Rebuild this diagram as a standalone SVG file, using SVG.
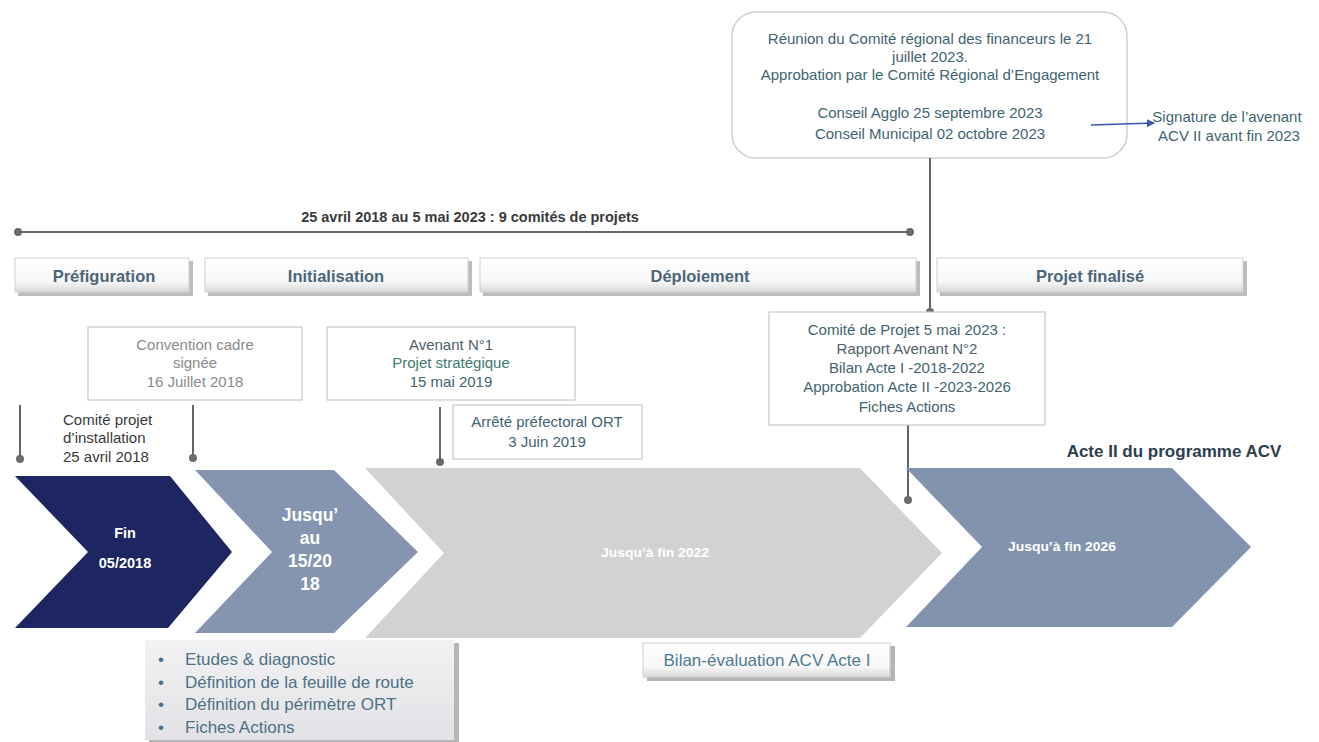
<svg xmlns="http://www.w3.org/2000/svg" width="1319" height="742" viewBox="0 0 1319 742">
<defs>
<style>
text{font-family:"Liberation Sans",Arial,sans-serif;}
.t{font-size:15px;fill:#3f6470;text-anchor:middle;}
.g{font-size:15px;fill:#8a8a8a;text-anchor:middle;}
.ph{font-size:16.5px;font-weight:bold;fill:#4b6678;text-anchor:middle;}
.cv{font-weight:bold;fill:#ffffff;text-anchor:middle;}
.bl{font-size:17px;fill:#4d7185;}
.ln{stroke:#666;stroke-width:2;fill:none;}
.dot{fill:#6b6b6b;}
.box{fill:#fff;stroke:#c8c8c8;stroke-width:1.2;}
</style>
<linearGradient id="bev" x1="0" y1="0" x2="0" y2="1">
<stop offset="0" stop-color="#ffffff"/>
<stop offset="0.7" stop-color="#f7f7f7"/>
<stop offset="1" stop-color="#d9d9d9"/>
</linearGradient>
<linearGradient id="lst" x1="0" y1="0" x2="0" y2="1">
<stop offset="0" stop-color="#f2f2f4"/>
<stop offset="1" stop-color="#e2e2e6"/>
</linearGradient>
<marker id="arr" markerWidth="8" markerHeight="8" refX="7" refY="4" orient="auto" markerUnits="userSpaceOnUse">
<path d="M0,0 L8,4 L0,8 z" fill="#3a56b0"/>
</marker>
</defs>
<rect width="1319" height="742" fill="#ffffff"/>

<g id="top-box">
<rect x="732" y="12" width="395" height="146" rx="24" fill="#fff" stroke="#cfcfcf" stroke-width="1.5"/>
<text class="t" x="930" y="44">Réunion du Comité régional des financeurs le 21</text>
<text class="t" x="930" y="62">juillet 2023.</text>
<text class="t" x="930" y="80">Approbation par le Comité Régional d’Engagement</text>
<text class="t" x="930" y="118">Conseil Agglo 25 septembre 2023</text>
<text class="t" x="930" y="139">Conseil Municipal 02 octobre 2023</text>
</g>

<g id="connectors">
<line class="ln" x1="18" y1="232" x2="910" y2="232"/>
<circle class="dot" cx="18" cy="232" r="4"/>
<circle class="dot" cx="910" cy="232" r="4"/>
<line class="ln" x1="930" y1="158" x2="930" y2="312"/>
<circle class="dot" cx="930" cy="312" r="4"/>
<line class="ln" x1="20" y1="405" x2="20" y2="458"/>
<circle class="dot" cx="20" cy="459" r="4"/>
<line class="ln" x1="193" y1="405" x2="193" y2="457"/>
<circle class="dot" cx="193" cy="458" r="4"/>
<line class="ln" x1="440" y1="407" x2="440" y2="461"/>
<circle class="dot" cx="440" cy="462" r="4"/>
<line class="ln" x1="908" y1="425" x2="908" y2="499"/>
<circle class="dot" cx="908" cy="500" r="4"/>
<line x1="1091" y1="125" x2="1154" y2="123" stroke="#3a56b0" stroke-width="1.3" marker-end="url(#arr)"/>
</g>

<g id="signature">
<text class="t" x="1227" y="122">Signature de l’avenant</text>
<text class="t" x="1229" y="141">ACV II avant fin 2023</text>
</g>

<g id="timeline-label">
<text x="470" y="222" font-size="14.5" font-weight="bold" fill="#3a3a3a" text-anchor="middle">25 avril 2018 au 5 mai 2023 : 9 comités de projets</text>
</g>

<g id="phase-prefiguration">
<rect x="18" y="261" width="175" height="35" fill="#bdbdbd"/>
<rect x="15" y="258" width="174" height="34" fill="url(#bev)" stroke="#d0d0d0"/>
<text class="ph" x="104" y="282">Préfiguration</text>
</g>
<g id="phase-initialisation">
<rect x="208" y="261" width="264" height="35" fill="#bdbdbd"/>
<rect x="205" y="258" width="263" height="34" fill="url(#bev)" stroke="#d0d0d0"/>
<text class="ph" x="336" y="282">Initialisation</text>
</g>
<g id="phase-deploiement">
<rect x="483" y="261" width="437" height="35" fill="#bdbdbd"/>
<rect x="480" y="258" width="436" height="34" fill="url(#bev)" stroke="#d0d0d0"/>
<text class="ph" x="700" y="282">Déploiement</text>
</g>
<g id="phase-finalise">
<rect x="940" y="261" width="307" height="35" fill="#bdbdbd"/>
<rect x="937" y="258" width="306" height="34" fill="url(#bev)" stroke="#d0d0d0"/>
<text class="ph" x="1090" y="282">Projet finalisé</text>
</g>

<g id="convention">
<rect class="box" x="88" y="327" width="214" height="73"/>
<text class="g" x="195" y="350">Convention cadre</text>
<text class="g" x="195" y="368">signée</text>
<text class="g" x="195" y="387">16 Juillet 2018</text>
</g>

<g id="avenant1">
<rect class="box" x="327" y="327" width="248" height="73"/>
<text class="t" x="451" y="350" style="fill:#4f5f6a">Avenant N°1</text>
<text class="t" x="451" y="368" style="fill:#3f7a70">Projet stratégique</text>
<text class="t" x="451" y="387">15 mai 2019</text>
</g>

<g id="arrete">
<rect class="box" x="453" y="405" width="189" height="54"/>
<text class="t" x="547" y="427">Arrêté préfectoral ORT</text>
<text class="t" x="547" y="447">3 Juin 2019</text>
</g>

<g id="comite-installation">
<text x="63" y="425" font-size="15" fill="#3a3a3a">Comité projet</text>
<text x="63" y="443" font-size="15" fill="#3a3a3a">d’installation</text>
<text x="63" y="462" font-size="15" fill="#3a3a3a">25 avril 2018</text>
</g>

<g id="comite-2023">
<rect class="box" x="769" y="312" width="276" height="113"/>
<text class="t" x="907" y="335">Comité de Projet 5 mai 2023 :</text>
<text class="t" x="907" y="354" style="fill:#4f5f6a">Rapport Avenant N°2</text>
<text class="t" x="907" y="373">Bilan Acte I -2018-2022</text>
<text class="t" x="907" y="392">Approbation Acte II -2023-2026</text>
<text class="t" x="907" y="412">Fiches Actions</text>
</g>

<g id="acte2-label">
<text x="1174" y="457" font-size="17" font-weight="bold" fill="#2d3e4e" text-anchor="middle">Acte II du programme ACV</text>
</g>

<g id="chevron-1">
<polygon points="15,476 170,476 232,552 168,628 15,628 88,552" fill="#1d2660"/>
<text class="cv" x="125" y="538" font-size="14.5">Fin</text>
<text class="cv" x="125" y="568" font-size="14.5">05/2018</text>
</g>
<g id="chevron-2">
<polygon points="195,470 334,470 418,552 334,633 195,633 272,552" fill="#8595b0"/>
<text class="cv" x="310" y="521" font-size="17.5">Jusqu’</text>
<text class="cv" x="310" y="544" font-size="17.5">au</text>
<text class="cv" x="310" y="567" font-size="17.5">15/20</text>
<text class="cv" x="310" y="590" font-size="17.5">18</text>
</g>
<g id="chevron-3">
<polygon points="365,468 860,468 942,553 860,638 365,638 444,553" fill="#d2d2d2"/>
<text x="655" y="557" font-size="12" font-weight="bold" fill="#ffffff" text-anchor="middle" textLength="108" lengthAdjust="spacingAndGlyphs">Jusqu’à fin 2022</text>
</g>
<g id="chevron-4">
<polygon points="906,468 1172,468 1251,547 1172,627 906,627 982,547" fill="#8294ad"/>
<text x="1062" y="551" font-size="12" font-weight="bold" fill="#ffffff" text-anchor="middle" textLength="108" lengthAdjust="spacingAndGlyphs">Jusqu’à fin 2026</text>
</g>

<g id="bullets">
<rect x="149" y="643" width="310" height="100" fill="#b5b5b8"/>
<rect x="145" y="640" width="309" height="100" fill="url(#lst)"/>
<g class="bl">
<text x="158" y="665">•</text><text x="185" y="665">Etudes &amp; diagnostic</text>
<text x="158" y="688">•</text><text x="185" y="688">Définition de la feuille de route</text>
<text x="158" y="710">•</text><text x="185" y="710">Définition du périmètre ORT</text>
<text x="158" y="733">•</text><text x="185" y="733">Fiches Actions</text>
</g>
</g>

<g id="bilan">
<rect x="647" y="646" width="248" height="35" fill="#b5b5b5"/>
<rect x="643" y="643" width="247" height="34" fill="url(#bev)" stroke="#d0d0d0"/>
<text x="767" y="666" font-size="17" fill="#4f7b90" text-anchor="middle">Bilan-évaluation ACV Acte I</text>
</g>
</svg>
